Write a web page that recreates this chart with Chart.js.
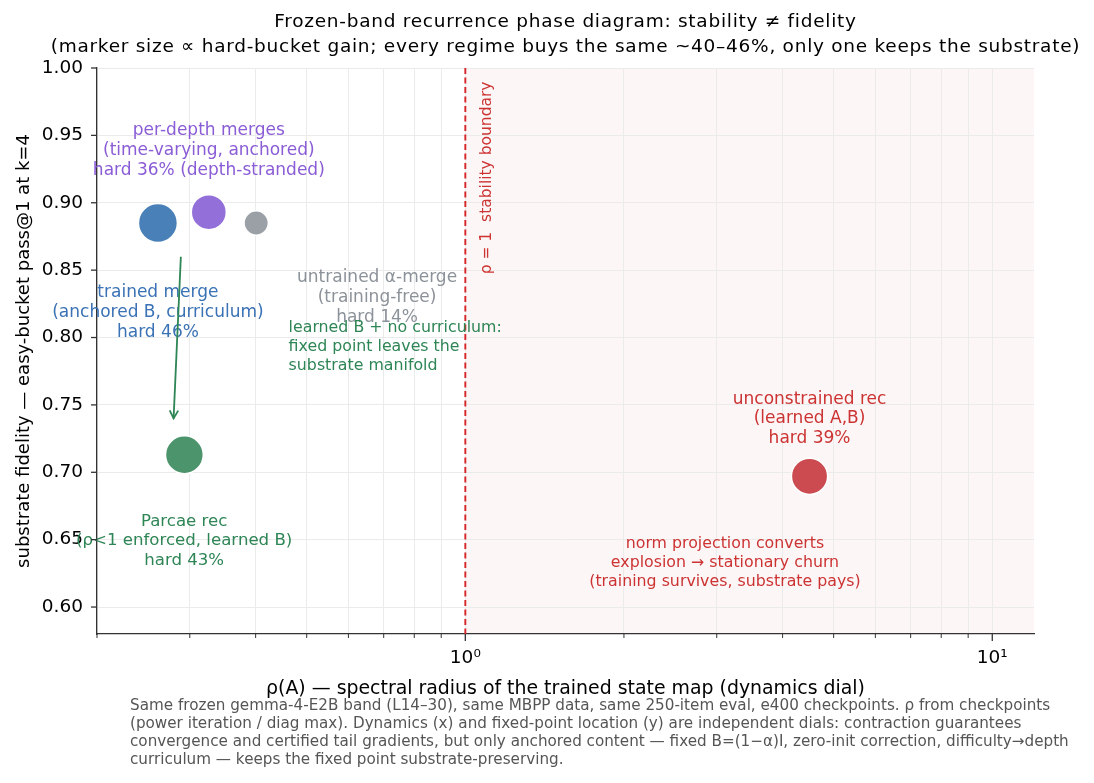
<!DOCTYPE html>
<html>
<head>
<meta charset="utf-8">
<script src="https://cdn.jsdelivr.net/npm/chart.js@4.4.0/dist/chart.umd.min.js"></script>
<style>
  html, body { margin: 0; padding: 0; background: #fff; }
  #wrap { width: 1094px; height: 783px; }
</style>
</head>
<body>
<div id="wrap"><canvas id="chart" width="1094" height="783"></canvas></div>
<script>
// regimes, in plotting order
const regimes = ['trained merge', 'per-depth merges', 'untrained α-merge', 'Parcae rec', 'unconstrained rec'];
const rho = [0.261, 0.326, 0.401, 0.293, 4.5];         // spectral radius rho(A)
const fidelity = [0.885, 0.893, 0.885, 0.713, 0.697];   // easy-bucket pass@1 at k=4
const hardGain = [46, 36, 14, 43, 39];                  // hard-bucket gain, %
const pointColors = ['#4a80b8', '#9370d9', '#9ba0a6', '#4b946c', '#cc4b50'];

const xTicks = [0.2, 0.3, 0.4, 0.5, 0.6, 0.7, 0.8, 0.9, 1, 2, 3, 4, 5, 6, 7, 8, 9, 10];
const xLabels = { 1: '10⁰', 10: '10¹' };
const yTicks = [0.60, 0.65, 0.70, 0.75, 0.80, 0.85, 0.90, 0.95, 1.00];

// arrow from trained merge down to Parcae rec
const arrowFrom = [0.2885, 0.860];
const arrowTo = [0.2795, 0.740];

const FONT = '"DejaVu Sans", sans-serif';

// marker size grows with hard-bucket gain
const markerRadius = g => Math.sqrt(7.6 * g + 60) - 0.75;

const notes = [
  { x: 0.326, y: 0.9386, color: '#8a5cd6', lines: ['per-depth merges', '(time-varying, anchored)', 'hard 36% (depth-stranded)'] },
  { x: 0.68, y: 0.8298, color: '#8c9299', lines: ['untrained α-merge', '(training-free)', 'hard 14%'] },
  { x: 0.261, y: 0.8183, color: '#3a72b5', lines: ['trained merge', '(anchored B, curriculum)', 'hard 46%'] },
  { x: 0.462, y: 0.7934, color: '#2e8555', align: 'left', size: 15.8, lh: 19, lines: ['learned B + no curriculum:', 'fixed point leaves the', 'substrate manifold'] },
  { x: 0.2927, y: 0.6489, color: '#2e8555', size: 16.6, lines: ['Parcae rec', '(ρ<1 enforced, learned B)', 'hard 43%'] },
  { x: 4.5, y: 0.7396, color: '#cc3333', lines: ['unconstrained rec', '(learned A,B)', 'hard 39%'] },
  { x: 3.11, y: 0.633, color: '#cc3333', size: 15.8, lh: 19, lines: ['norm projection converts', 'explosion → stationary churn', '(training survives, substrate pays)'] }
];

const caption = [
  'Same frozen gemma-4-E2B band (L14–30), same MBPP data, same 250-item eval, e400 checkpoints. ρ from checkpoints',
  '(power iteration / diag max). Dynamics (x) and fixed-point location (y) are independent dials: contraction guarantees',
  'convergence and certified tail gradients, but only anchored content — fixed B=(1−α)I, zero-init correction, difficulty→depth',
  'curriculum — keeps the fixed point substrate-preserving.'
];

const decor = {
  id: 'decor',
  beforeDraw(chart) {
    const { ctx, chartArea: a, scales: { x } } = chart;
    const x1 = x.getPixelForValue(1);
    ctx.save();
    ctx.fillStyle = 'rgba(214, 39, 40, 0.045)';
    ctx.fillRect(x1, a.top, a.right - x1, a.bottom - a.top);
    ctx.restore();
  },
  beforeDatasetsDraw(chart) {
    const { ctx, chartArea: a, scales: { x, y } } = chart;
    const x1 = x.getPixelForValue(1);
    ctx.save();
    ctx.strokeStyle = '#d62728';
    ctx.lineWidth = 1.9;
    ctx.setLineDash([6, 3.5]);
    ctx.beginPath();
    ctx.moveTo(x1, a.top);
    ctx.lineTo(x1, a.bottom);
    ctx.stroke();
    ctx.restore();

    // boundary label
    ctx.save();
    ctx.translate(x.getPixelForValue(1.1), y.getPixelForValue(0.99));
    ctx.rotate(-Math.PI / 2);
    ctx.font = '15.5px ' + FONT;
    ctx.fillStyle = '#cc3333';
    ctx.textAlign = 'right';
    ctx.textBaseline = 'middle';
    ctx.fillText('ρ = 1  stability boundary', 0, 0);
    ctx.restore();
  },
  afterDatasetsDraw(chart) {
    const { ctx, scales: { x, y } } = chart;
    ctx.save();
    // notes
    ctx.textBaseline = 'middle';
    notes.forEach(n => {
      const lh = n.lh || 19.8;
      ctx.font = (n.size || 17) + 'px ' + FONT;
      ctx.fillStyle = n.color;
      ctx.textAlign = n.align || 'center';
      const px = x.getPixelForValue(n.x);
      const py = y.getPixelForValue(n.y);
      n.lines.forEach((t, i) => ctx.fillText(t, px, py + (i - 1) * lh));
    });

    // arrow
    const ax0 = x.getPixelForValue(arrowFrom[0]), ay0 = y.getPixelForValue(arrowFrom[1]);
    const ax1 = x.getPixelForValue(arrowTo[0]), ay1 = y.getPixelForValue(arrowTo[1]);
    const ang = Math.atan2(ay1 - ay0, ax1 - ax0);
    ctx.strokeStyle = '#2e8555';
    ctx.lineWidth = 1.8;
    ctx.beginPath();
    ctx.moveTo(ax0, ay0);
    ctx.lineTo(ax1, ay1);
    ctx.stroke();
    ctx.beginPath();
    ctx.moveTo(ax1 + 9 * Math.cos(ang + 2.65), ay1 + 9 * Math.sin(ang + 2.65));
    ctx.lineTo(ax1, ay1);
    ctx.lineTo(ax1 + 9 * Math.cos(ang - 2.65), ay1 + 9 * Math.sin(ang - 2.65));
    ctx.stroke();
    ctx.restore();
  },
  afterDraw(chart) {
    const { ctx, chartArea: a, scales: { x, y } } = chart;
    ctx.save();
    ctx.strokeStyle = '#333';
    xTicks.forEach(v => {
      const px = x.getPixelForValue(v);
      const major = v in xLabels;
      ctx.lineWidth = major ? 1.3 : 1;
      ctx.beginPath();
      ctx.moveTo(px, a.bottom);
      ctx.lineTo(px, a.bottom + (major ? 7 : 4));
      ctx.stroke();
    });
    yTicks.forEach(v => {
      const py = y.getPixelForValue(v);
      ctx.lineWidth = 1.3;
      ctx.beginPath();
      ctx.moveTo(a.left, py);
      ctx.lineTo(a.left - 6, py);
      ctx.stroke();
    });

    // title
    const cx = (a.left + a.right) / 2;
    ctx.fillStyle = '#000';
    ctx.textAlign = 'center';
    ctx.textBaseline = 'middle';
    ctx.font = '18.5px ' + FONT;
    ctx.letterSpacing = '0.73px';
    ctx.fillText('Frozen-band recurrence phase diagram: stability ≠ fidelity', cx, 22);
    ctx.fillText('(marker size ∝ hard-bucket gain; every regime buys the same ~40–46%, only one keeps the substrate)', cx, 47);
    ctx.letterSpacing = '0px';

    // axis titles
    ctx.font = '18.9px ' + FONT;
    ctx.fillText('ρ(A) — spectral radius of the trained state map (dynamics dial)', cx, 689);
    ctx.save();
    ctx.font = '18px ' + FONT;
    ctx.translate(24, (a.top + a.bottom) / 2);
    ctx.rotate(-Math.PI / 2);
    ctx.fillText('substrate fidelity — easy-bucket pass@1 at k=4', 0, 0);
    ctx.restore();

    // caption
    ctx.font = '15.2px ' + FONT;
    ctx.fillStyle = '#555';
    ctx.textAlign = 'left';
    caption.forEach((t, i) => ctx.fillText(t, 130, 706.5 + i * 17.7));
    ctx.restore();
  }
};

new Chart(document.getElementById('chart'), {
  type: 'bubble',
  data: {
    labels: regimes,
    datasets: [{
      data: rho.map((v, i) => ({ x: v, y: fidelity[i], r: markerRadius(hardGain[i]) })),
      backgroundColor: pointColors,
      borderColor: '#ffffff',
      borderWidth: 1.5,
      hoverRadius: 0
    }]
  },
  options: {
    responsive: false,
    animation: false,
    layout: { padding: { left: 0, right: 60, top: 68, bottom: 0 } },
    plugins: { legend: { display: false }, tooltip: { enabled: false } },
    scales: {
      x: {
        type: 'logarithmic',
        min: 0.2,
        max: 12,
        afterBuildTicks: s => { s.ticks = xTicks.map(v => ({ value: v })); },
        afterFit: s => { s.height = 149; },
        ticks: {
          autoSkip: false,
          maxRotation: 0,
          padding: 13,
          color: '#000',
          font: { family: FONT, size: 18.5 },
          callback: v => xLabels[v] || ''
        },
        grid: { color: '#ebebeb', lineWidth: 1, drawTicks: false },
        border: { display: true, color: '#333', width: 1.3 }
      },
      y: {
        min: 0.58,
        max: 1.0,
        afterBuildTicks: s => { s.ticks = yTicks.map(v => ({ value: v })); },
        afterFit: s => { s.width = 97; },
        ticks: {
          padding: 14,
          color: '#000',
          font: { family: FONT, size: 18.5 },
          callback: v => v.toFixed(2)
        },
        grid: { color: '#ebebeb', lineWidth: 1, drawTicks: false },
        border: { display: true, color: '#333', width: 1.3 }
      }
    }
  },
  plugins: [decor]
});
</script>
</body>
</html>
